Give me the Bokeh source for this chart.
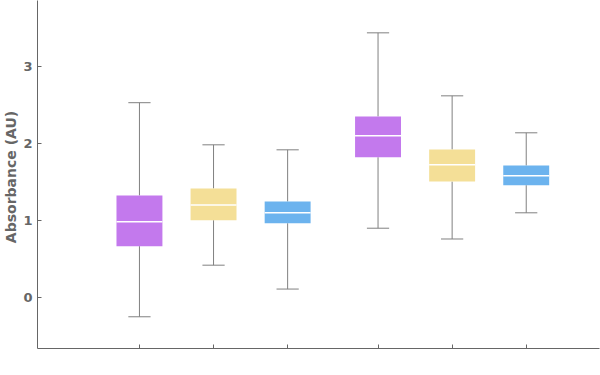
from bokeh.plotting import figure
from bokeh.models import ColumnDataSource, Range1d, FixedTicker, SingleIntervalTicker
from bokeh.embed import file_html
from bokeh.resources import INLINE

# Data
positions = [1, 2, 3, 4.22, 5.22, 6.22]
whisker_low = [-0.25, 0.42, 0.11, 0.90, 0.76, 1.10]
q1 = [0.667, 1.004, 0.965, 1.822, 1.506, 1.459]
median = [0.983, 1.203, 1.10, 2.10, 1.723, 1.58]
q3 = [1.325, 1.416, 1.247, 2.351, 1.922, 1.714]
whisker_high = [2.53, 1.983, 1.918, 3.437, 2.619, 2.139]
colors = ["#C379ED", "#F4DF97", "#6CB3EE", "#C379ED", "#F4DF97", "#6CB3EE"]

box_w = 0.62
cap_w = 0.30

src = ColumnDataSource(dict(
    x=positions, lo=whisker_low, q1=q1, med=median, q3=q3, hi=whisker_high, c=colors,
    xl=[p - box_w / 2 for p in positions], xr=[p + box_w / 2 for p in positions],
    cl=[p - cap_w / 2 for p in positions], cr=[p + cap_w / 2 for p in positions],
))

p = figure(width=600, height=368, output_backend="svg", toolbar_location=None,
           x_range=Range1d(-0.376, 7.209), y_range=Range1d(-0.662, 3.857),
           min_border_top=0, min_border_right=1, min_border_bottom=20, min_border_left=0)
p.outline_line_color = None
p.grid.grid_line_color = None

wc = "#808080"
# whiskers
p.segment(x0="x", y0="lo", x1="x", y1="q1", source=src, line_color=wc, line_width=1)
p.segment(x0="x", y0="q3", x1="x", y1="hi", source=src, line_color=wc, line_width=1)
p.segment(x0="cl", y0="lo", x1="cr", y1="lo", source=src, line_color=wc, line_width=1)
p.segment(x0="cl", y0="hi", x1="cr", y1="hi", source=src, line_color=wc, line_width=1)
# boxes
p.vbar(x="x", width=box_w, bottom="q1", top="q3", source=src, fill_color="c", line_color=None)
# medians
p.segment(x0="xl", y0="med", x1="xr", y1="med", source=src, line_color="white", line_width=1.5)

axc = "#666666"
p.xaxis.ticker = FixedTicker(ticks=positions)
p.xaxis.major_label_overrides = {pos: "" for pos in positions}
p.xaxis.major_tick_in = 4
p.xaxis.major_tick_out = 0
p.xaxis.minor_tick_line_color = None

p.yaxis.ticker = SingleIntervalTicker(interval=1, num_minor_ticks=5)
p.yaxis.major_tick_in = 4
p.yaxis.major_tick_out = 0
p.yaxis.minor_tick_in = 2
p.yaxis.minor_tick_out = 0
p.yaxis.axis_label = "Absorbance  (AU)"
p.yaxis.axis_label_text_font = "DejaVu Sans"
p.yaxis.axis_label_text_font_style = "bold"
p.yaxis.axis_label_text_font_size = "14px"
p.yaxis.axis_label_text_color = axc
p.yaxis.axis_label_standoff = 1
p.yaxis.major_label_text_font = "DejaVu Sans"
p.yaxis.major_label_text_font_style = "bold"
p.yaxis.major_label_text_font_size = "13px"
p.yaxis.major_label_text_color = axc
p.yaxis.major_label_standoff = 5

for ax in (p.xaxis, p.yaxis):
    ax.axis_line_color = axc
    ax.major_tick_line_color = axc
    ax.minor_tick_line_color = axc if ax is p.yaxis else None

open("out.html", "w").write(file_html(p, INLINE))
